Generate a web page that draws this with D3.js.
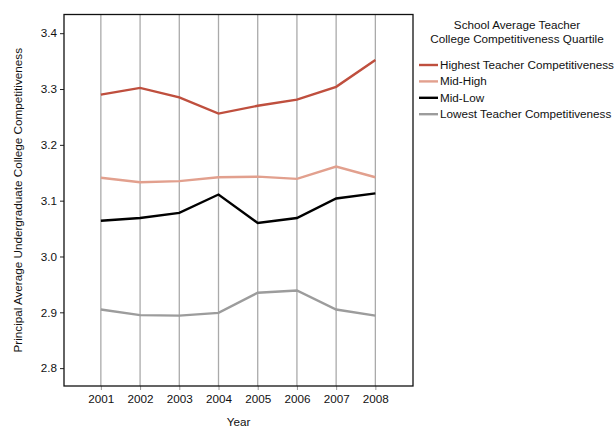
<!DOCTYPE html>
<html>
<head>
<meta charset="utf-8">
<script src="https://cdn.jsdelivr.net/npm/d3@7"></script>
<style>
  html, body { margin: 0; padding: 0; background: #fff; }
  svg { display: block; font-family: "Liberation Sans", Arial, sans-serif; }
</style>
</head>
<body>
<svg id="chart" width="614" height="427"></svg>
<script>
// Survey years and quartile averages of principals' undergraduate college competitiveness
const years = [2001, 2002, 2003, 2004, 2005, 2006, 2007, 2008];
const highest = [3.290, 3.302, 3.285, 3.256, 3.270, 3.281, 3.304, 3.352];
const midHigh = [3.141, 3.133, 3.135, 3.142, 3.143, 3.139, 3.161, 3.142];
const midLow  = [3.064, 3.069, 3.078, 3.111, 3.060, 3.069, 3.104, 3.113];
const lowest  = [2.905, 2.895, 2.894, 2.899, 2.935, 2.939, 2.905, 2.894];
const yTicks = [2.8, 2.9, 3.0, 3.1, 3.2, 3.3, 3.4];

const seriesNames = ["Highest Teacher Competitiveness", "Mid-High", "Mid-Low", "Lowest Teacher Competitiveness"];
const seriesColors = ["#bf4f3e", "#e2a08e", "#000000", "#9c9c9c"];
const seriesValues = [highest, midHigh, midLow, lowest];

const fontSize = 11.7;
const svg = d3.select("#chart");
const plot = { left: 64, right: 413, top: 14.5, bottom: 386 };

const x = d3.scaleLinear().domain([2000.06, 2008.96]).range([plot.left, plot.right]);
const y = d3.scaleLinear().domain([2.768, 3.4335]).range([plot.bottom, plot.top]);

// vertical grid lines at each year
svg.append("g")
  .selectAll("line")
  .data(years)
  .join("line")
  .attr("x1", d => x(d)).attr("x2", d => x(d))
  .attr("y1", plot.top).attr("y2", plot.bottom)
  .attr("stroke", "#aaaaaa")
  .attr("stroke-width", 1.3);

// x axis
const xAxis = svg.append("g")
  .attr("transform", `translate(0,${plot.bottom})`)
  .call(d3.axisBottom(x).tickValues(years).tickFormat(d3.format("d")).tickSize(4).tickPadding(5));
xAxis.select(".domain").remove();
xAxis.selectAll(".tick line").attr("stroke", "#999");
xAxis.selectAll("text").attr("font-size", fontSize).attr("fill", "#111")
  .attr("font-family", "Liberation Sans, Arial, sans-serif");

// y axis
const yAxis = svg.append("g")
  .attr("transform", `translate(${plot.left},0)`)
  .call(d3.axisLeft(y).tickValues(yTicks).tickFormat(d3.format(".1f")).tickSize(4).tickPadding(3));
yAxis.select(".domain").remove();
yAxis.selectAll(".tick line").attr("stroke", "#222");
yAxis.selectAll("text").attr("font-size", fontSize).attr("fill", "#111")
  .attr("font-family", "Liberation Sans, Arial, sans-serif");

// plot frame
svg.append("rect")
  .attr("x", plot.left).attr("y", plot.top)
  .attr("width", plot.right - plot.left).attr("height", plot.bottom - plot.top)
  .attr("fill", "none").attr("stroke", "#111").attr("stroke-width", 1.3);

// series lines
const line = d3.line().x((d, i) => x(years[i])).y(d => y(d));
svg.append("g")
  .selectAll("path")
  .data(seriesValues)
  .join("path")
  .attr("d", d => line(d))
  .attr("fill", "none")
  .attr("stroke", (d, i) => seriesColors[i])
  .attr("stroke-width", 2.4)
  .attr("stroke-linejoin", "miter");

// axis titles
svg.append("text")
  .attr("x", (plot.left + plot.right) / 2).attr("y", 426)
  .attr("text-anchor", "middle").attr("font-size", fontSize).attr("fill", "#111")
  .text("Year");

svg.append("text")
  .attr("transform", `translate(22,${(plot.top + plot.bottom) / 2}) rotate(-90)`)
  .attr("text-anchor", "middle").attr("font-size", fontSize).attr("fill", "#111")
  .text("Principal Average Undergraduate College Competitiveness");

// legend
const legend = svg.append("g");
legend.selectAll("text.title")
  .data(["School Average Teacher", "College Competitiveness Quartile"])
  .join("text")
  .attr("class", "title")
  .attr("x", 517).attr("y", (d, i) => 29 + i * 13.5)
  .attr("text-anchor", "middle").attr("font-size", fontSize).attr("fill", "#111")
  .text(d => d);

const items = legend.selectAll("g.item")
  .data(seriesNames)
  .join("g")
  .attr("class", "item")
  .attr("transform", (d, i) => `translate(419,${65 + i * 16.4})`);
items.append("line")
  .attr("x1", 0).attr("x2", 19).attr("y1", 0).attr("y2", 0)
  .attr("stroke", (d, i) => seriesColors[i]).attr("stroke-width", 2.4);
items.append("text")
  .attr("x", 21).attr("y", 4)
  .attr("font-size", fontSize).attr("fill", "#111")
  .text(d => d);
</script>
</body>
</html>
